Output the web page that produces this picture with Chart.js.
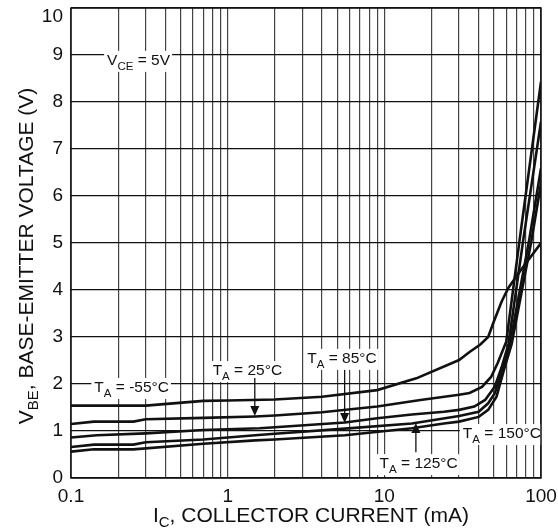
<!DOCTYPE html>
<html><head><meta charset="utf-8">
<script src="https://cdn.jsdelivr.net/npm/chart.js@4/dist/chart.umd.min.js"></script>
<style>html,body{margin:0;padding:0;background:#fff;}canvas{display:block;}</style>
</head><body>
<canvas id="c" width="558" height="529"></canvas>
<script>
// ---- data (I in mA, VBE in V) ----
const i_m55 = [0.1,0.3,0.7,1,2,4,9,16,30,35,41,46,50,56,62,75,100];
const v_m55 = [1.54,1.54,1.64,1.65,1.67,1.73,1.87,2.12,2.51,2.68,2.84,3.0,3.33,3.75,4.05,4.44,5.0];
const i_25 = [0.1,0.14,0.25,0.3,0.7,1.5,2,4,9,17,30,35,42,48,53,60,73,100];
const v_25 = [1.15,1.2,1.2,1.25,1.28,1.31,1.33,1.40,1.52,1.66,1.77,1.81,1.94,2.15,2.45,2.9,5.06,8.43];
const i_85 = [0.1,0.146,0.3,0.7,1.6,2,5.6,9,15,24,30,37.5,44,50.6,56,62,77,100];
const v_85 = [0.86,0.91,0.95,1.02,1.06,1.08,1.18,1.27,1.35,1.41,1.45,1.52,1.66,1.94,2.35,2.85,5.06,7.58];
const i_125 = [0.1,0.14,0.25,0.3,0.7,1.5,2,5.6,15,30,40,46,50.6,57,63.3,84,100];
const v_125 = [0.66,0.71,0.71,0.76,0.82,0.91,0.94,1.05,1.16,1.32,1.41,1.59,1.80,2.3,2.85,5.06,6.59];
const i_150 = [0.1,0.14,0.25,0.7,1.5,2,5.6,15,24,30,40,46,52,58,65,87,100];
const v_150 = [0.56,0.61,0.61,0.73,0.80,0.82,0.91,1.06,1.16,1.20,1.30,1.45,1.73,2.3,2.85,5.06,6.27];

const xGridValues = [0.1,0.2,0.3,0.4,0.5,0.6,0.7,0.8,0.9,1,2,3,4,5,6,7,8,9,10,20,30,40,50,60,70,80,90,100];
const xLabelValues = [0.1,1,10,100];
const xLabelTexts = ['0.1','1','10','100'];
const yMin = 0, yMax = 10;

const FONT = '"Liberation Sans", Arial, Helvetica, sans-serif';

function pts(xs, ys){ return xs.map((v,i)=>({x:v,y:ys[i]})); }
function ds(xs, ys){
  return {data: pts(xs,ys), borderColor:'#111', borderWidth:2.6, pointRadius:0, tension:0, fill:false};
}

// text with subscript parts
function drawParts(ctx, parts, x, y, size, subSize, subDrop, align){
  let w = 0;
  parts.forEach(p=>{ ctx.font = (p.sub?subSize:size)+'px '+FONT; w += ctx.measureText(p.t).width; });
  let cx = align==='center' ? x - w/2 : x;
  ctx.textAlign='left'; ctx.textBaseline='alphabetic';
  parts.forEach(p=>{
    ctx.font = (p.sub?subSize:size)+'px '+FONT;
    ctx.fillText(p.t, cx, p.sub ? y+subDrop : y);
    cx += ctx.measureText(p.t).width;
  });
  return {left: align==='center'? x-w/2 : x, width:w};
}

function labelBox(ctx, parts, x, y){
  const size=15.5, sub=11.5;
  let w=0;
  parts.forEach(p=>{ ctx.font=(p.sub?sub:size)+'px '+FONT; w+=ctx.measureText(p.t).width; });
  ctx.fillStyle='#fff';
  ctx.fillRect(x-3, y-14, w+5, 21);
  ctx.fillStyle='#111';
  drawParts(ctx, parts, x, y, size, sub, 5, 'left');
}

function arrow(ctx, x, y0, y1){
  ctx.strokeStyle='#111'; ctx.fillStyle='#111'; ctx.lineWidth=1.3;
  const dir = y1>y0 ? 1 : -1;
  ctx.beginPath(); ctx.moveTo(x,y0); ctx.lineTo(x,y1-dir*8); ctx.stroke();
  ctx.beginPath(); ctx.moveTo(x,y1); ctx.lineTo(x-4.5,y1-dir*10); ctx.lineTo(x+4.5,y1-dir*10); ctx.closePath(); ctx.fill();
}

const annot = {
  id:'annot',
  afterDraw(chart){
    const {ctx, chartArea:a, scales:{x,y}} = chart;
    const px = v=>x.getPixelForValue(v), py = v=>y.getPixelForValue(v);
    ctx.save();
    // top y label
    ctx.fillStyle='#111'; ctx.font='19px '+FONT; ctx.textAlign='right'; ctx.textBaseline='middle';
    ctx.fillText('10', a.left-8, py(10)+9);
    // labels
    labelBox(ctx,[{t:'V'},{t:'CE',sub:true},{t:' = 5V'}], px(0.170), py(8.79));
    labelBox(ctx,[{t:'T'},{t:'A',sub:true},{t:' = -55°C'}], px(0.1409), py(1.83));
    labelBox(ctx,[{t:'T'},{t:'A',sub:true},{t:' = 25°C'}], px(0.802), py(2.19));
    labelBox(ctx,[{t:'T'},{t:'A',sub:true},{t:' = 85°C'}], px(3.22), py(2.45));
    labelBox(ctx,[{t:'T'},{t:'A',sub:true},{t:' = 125°C'}], px(9.33), py(0.21));
    labelBox(ctx,[{t:'T'},{t:'A',sub:true},{t:' = 150°C'}], px(31.7), py(0.85));
    arrow(ctx, px(1.49), py(2.13), py(1.32));
    arrow(ctx, px(5.58), py(2.30), py(1.17));
    arrow(ctx, px(15.9), py(0.55), py(1.17));
    // frame
    ctx.strokeStyle='#111'; ctx.lineWidth=1.5;
    ctx.strokeRect(a.left, a.top, a.right-a.left, a.bottom-a.top);
    // axis titles
    ctx.fillStyle='#111';
    drawParts(ctx,[{t:'I'},{t:'C',sub:true},{t:', COLLECTOR CURRENT (mA)'}], 311, 522, 21, 15, 5, 'center');
    ctx.save();
    ctx.translate(33, 256); ctx.rotate(-Math.PI/2);
    drawParts(ctx,[{t:'V'},{t:'BE',sub:true},{t:', BASE-EMITTER VOLTAGE (V)'}], 0, 0, 21, 15, 5, 'center');
    ctx.restore();
    ctx.restore();
  }
};

new Chart(document.getElementById('c'), {
  type:'line',
  data:{ datasets:[ ds(i_m55,v_m55), ds(i_25,v_25), ds(i_85,v_85), ds(i_125,v_125), ds(i_150,v_150) ] },
  options:{
    responsive:false, animation:false, devicePixelRatio:1,
    layout:{padding:{top:8,right:17,bottom:0,left:0}},
    plugins:{legend:{display:false}, tooltip:{enabled:false}},
    scales:{
      x:{
        type:'logarithmic', min:0.1, max:100,
        afterBuildTicks(s){ s.ticks = xGridValues.map(v=>({value:v})); },
        afterFit(s){ s.height=51; s.paddingLeft=0; s.paddingRight=0; },
        ticks:{
          autoSkip:false, maxRotation:0, padding:7, color:'#111',
          font:{family:FONT, size:19},
          callback(v){ const k = xLabelValues.findIndex(t=>Math.abs(t-v)<1e-9); return k>=0 ? xLabelTexts[k] : ''; }
        },
        grid:{color:'#444', lineWidth:1.2, drawTicks:false},
        border:{display:false}
      },
      y:{
        type:'linear', min:yMin, max:yMax,
        afterFit(s){ s.width=71; s.paddingTop=0; s.paddingBottom=0; },
        ticks:{ stepSize:1, padding:8, color:'#111', font:{family:FONT, size:19},
          callback(v){ return v===10 ? '' : String(v); } },
        grid:{color:'#111', lineWidth:1.2, drawTicks:false},
        border:{display:false}
      }
    }
  },
  plugins:[annot]
});
</script>
</body></html>
